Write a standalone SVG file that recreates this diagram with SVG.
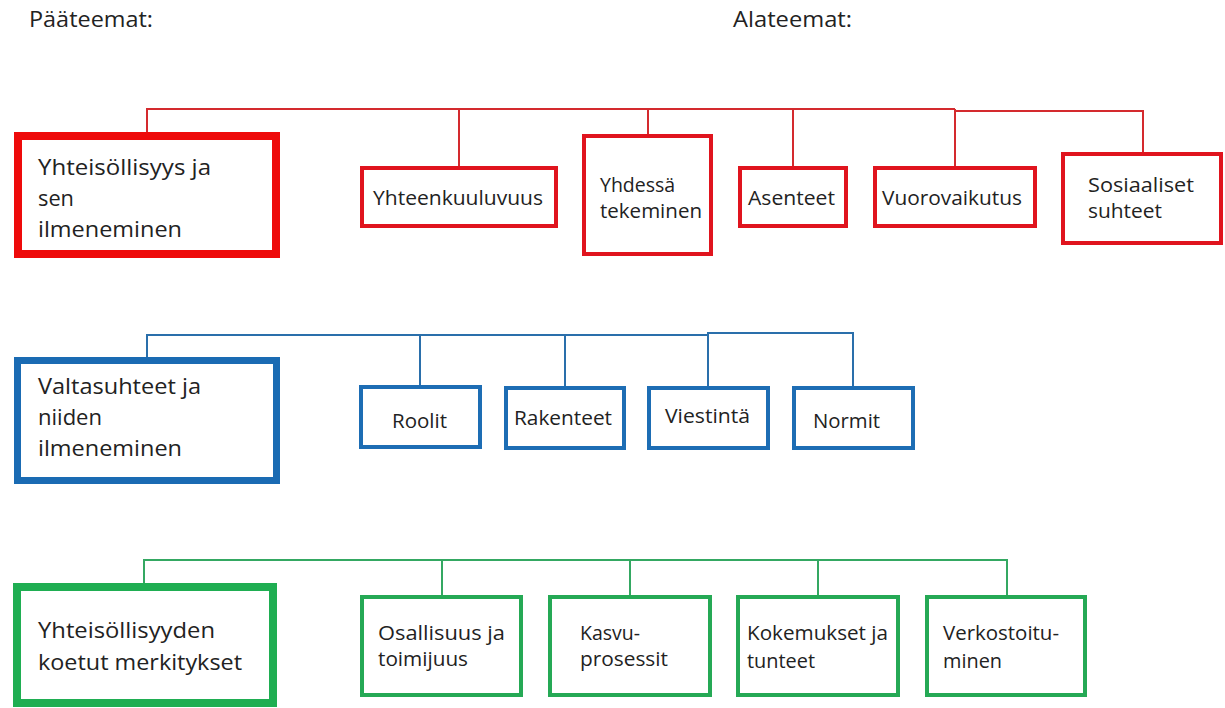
<svg xmlns="http://www.w3.org/2000/svg" width="1225" height="708" viewBox="0 0 1225 708">
<style>
text{font-family:"Open Sans","Liberation Sans",sans-serif;fill:#222;}
.hdr{font-size:21px;}
.ttl{font-size:22px;}
.sub{font-size:19.5px;}
.rm{fill:#fff;stroke:#ee0a0a;stroke-width:8;}
.rs{fill:#fff;stroke:#e0141e;stroke-width:4;}
.bm{fill:#fff;stroke:#1a6bb3;stroke-width:7;}
.bs{fill:#fff;stroke:#1d6db4;stroke-width:4;}
.gm{fill:#fff;stroke:#1fae52;stroke-width:8;}
.gs{fill:#fff;stroke:#25a955;stroke-width:4;}
.cr{fill:none;stroke:#d42a2e;stroke-width:2;}
.cb{fill:none;stroke:#2a6fab;stroke-width:2;}
.cg{fill:none;stroke:#34a862;stroke-width:2;}
</style>
<rect width="1225" height="708" fill="#fff"/>
<text class="hdr" x="29" y="27" textLength="124" lengthAdjust="spacingAndGlyphs">Pääteemat:</text>
<text class="hdr" x="733" y="27" textLength="119" lengthAdjust="spacingAndGlyphs">Alateemat:</text>

<g id="connectors">
<path class="cr" d="M147 132V109H955M955 109V111H1143V152M459 109V166M648 109V134M793 109V166M955 109V166"/>
<path class="cb" d="M147 357V335H708M708 335V333H853V386M420 335V385M565 335V386M708 335V386"/>
<path class="cg" d="M144 583V560H1007V596M442 560V596M630 560V596M818 560V596"/>
</g>

<g id="main-red">
<rect class="rm" x="18" y="136" width="258" height="118"/>
<text class="ttl" x="38" y="175" textLength="173" lengthAdjust="spacingAndGlyphs">Yhteisöllisyys ja</text>
<text class="ttl" x="38" y="206" textLength="36" lengthAdjust="spacingAndGlyphs">sen</text>
<text class="ttl" x="38" y="237" textLength="144" lengthAdjust="spacingAndGlyphs">ilmeneminen</text>
</g>
<g id="yhteenkuuluvuus">
<rect class="rs" x="362" y="168" width="194" height="58"/>
<text class="sub" x="373" y="205" textLength="170" lengthAdjust="spacingAndGlyphs">Yhteenkuuluvuus</text>
</g>
<g id="yhdessa">
<rect class="rs" x="584" y="136" width="127" height="118"/>
<text class="sub" x="600" y="192">Yhdessä</text>
<text class="sub" x="600" y="218" textLength="102" lengthAdjust="spacingAndGlyphs">tekeminen</text>
</g>
<g id="asenteet">
<rect class="rs" x="740" y="168" width="106" height="58"/>
<text class="sub" x="748" y="205" textLength="87" lengthAdjust="spacingAndGlyphs">Asenteet</text>
</g>
<g id="vuorovaikutus">
<rect class="rs" x="875" y="168" width="160" height="58"/>
<text class="sub" x="882" y="205" textLength="140" lengthAdjust="spacingAndGlyphs">Vuorovaikutus</text>
</g>
<g id="sosiaaliset">
<rect class="rs" x="1063" y="154" width="158" height="89"/>
<text class="sub" x="1088" y="192" textLength="106" lengthAdjust="spacingAndGlyphs">Sosiaaliset</text>
<text class="sub" x="1088" y="218" textLength="74" lengthAdjust="spacingAndGlyphs">suhteet</text>
</g>

<g id="main-blue">
<rect class="bm" x="17.5" y="360.5" width="259" height="120"/>
<text class="ttl" x="38" y="394" textLength="163" lengthAdjust="spacingAndGlyphs">Valtasuhteet ja</text>
<text class="ttl" x="38" y="425" textLength="64" lengthAdjust="spacingAndGlyphs">niiden</text>
<text class="ttl" x="38" y="456" textLength="144" lengthAdjust="spacingAndGlyphs">ilmeneminen</text>
</g>
<g id="roolit">
<rect class="bs" x="361" y="387" width="119" height="60"/>
<text class="sub" x="392" y="428" textLength="55" lengthAdjust="spacingAndGlyphs">Roolit</text>
</g>
<g id="rakenteet">
<rect class="bs" x="506" y="388" width="118" height="60"/>
<text class="sub" x="514" y="425" textLength="98" lengthAdjust="spacingAndGlyphs">Rakenteet</text>
</g>
<g id="viestinta">
<rect class="bs" x="649" y="388" width="119" height="60"/>
<text class="sub" x="665" y="423" textLength="85" lengthAdjust="spacingAndGlyphs">Viestintä</text>
</g>
<g id="normit">
<rect class="bs" x="794" y="388" width="119" height="60"/>
<text class="sub" x="813" y="428" textLength="67" lengthAdjust="spacingAndGlyphs">Normit</text>
</g>

<g id="main-green">
<rect class="gm" x="17" y="587" width="256" height="116"/>
<text class="ttl" x="38" y="638" textLength="177" lengthAdjust="spacingAndGlyphs">Yhteisöllisyyden</text>
<text class="ttl" x="38" y="670" textLength="204" lengthAdjust="spacingAndGlyphs">koetut merkitykset</text>
</g>
<g id="osallisuus">
<rect class="gs" x="362" y="597" width="159" height="98"/>
<text class="sub" x="378" y="640" textLength="127" lengthAdjust="spacingAndGlyphs">Osallisuus ja</text>
<text class="sub" x="378" y="666" textLength="90" lengthAdjust="spacingAndGlyphs">toimijuus</text>
</g>
<g id="kasvu">
<rect class="gs" x="550" y="597" width="160" height="98"/>
<text class="sub" x="580" y="640">Kasvu-</text>
<text class="sub" x="580" y="666" textLength="88" lengthAdjust="spacingAndGlyphs">prosessit</text>
</g>
<g id="kokemukset">
<rect class="gs" x="738" y="597" width="160" height="98"/>
<text class="sub" x="747" y="640" textLength="141" lengthAdjust="spacingAndGlyphs">Kokemukset ja</text>
<text class="sub" x="747" y="668" textLength="68" lengthAdjust="spacingAndGlyphs">tunteet</text>
</g>
<g id="verkostoituminen">
<rect class="gs" x="927" y="597" width="158" height="98"/>
<text class="sub" x="943" y="640" textLength="116" lengthAdjust="spacingAndGlyphs">Verkostoitu-</text>
<text class="sub" x="943" y="668" textLength="59" lengthAdjust="spacingAndGlyphs">minen</text>
</g>
</svg>
